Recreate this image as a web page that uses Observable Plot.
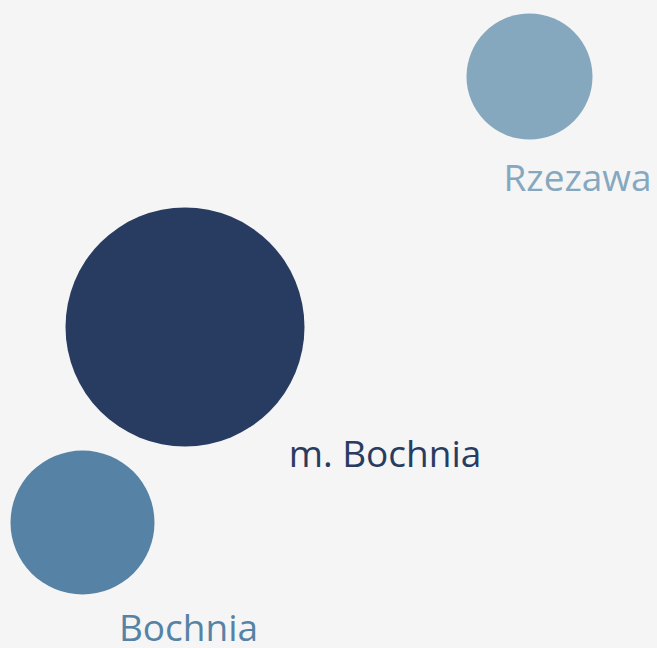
<!DOCTYPE html>
<html>
<head>
<meta charset="utf-8">
<script src="https://cdn.jsdelivr.net/npm/d3@7"></script>
<script src="https://cdn.jsdelivr.net/npm/@observablehq/plot@0.6"></script>
<style>
  html, body { margin: 0; padding: 0; background: #f5f5f5; }
  #chart svg { display: block; }
</style>
</head>
<body>
<div id="chart"></div>
<script>
// Data
const names = ["m. Bochnia", "Bochnia", "Rzezawa"];
const values = [100, 36.3, 27.8];        // relative size (area)
const posX = [184.5, 82, 529];           // layout position
const posY = [321.5, 126, 572];          // layout position (up)
const colors = ["#283c62", "#5683a5", "#86a8bf"];

const data = names.map((n, i) => ({name: n, value: values[i], x: posX[i], y: posY[i], color: colors[i]}));

// label offsets relative to circle centres (layout, not data)
const labelOffset = {"m. Bochnia": [200, -128], "Bochnia": [106, -107], "Rzezawa": [48, -102.5]};

const W = 657, H = 648;
const chart = Plot.plot({
  width: W,
  height: H,
  margin: 0,
  style: {background: "#f5f5f5", fontFamily: "'Open Sans', sans-serif", overflow: "visible"},
  x: {domain: [0, W], range: [0, W], axis: null},
  y: {domain: [0, H], range: [H, 0], axis: null},
  r: {type: "sqrt", domain: [0, d3.max(values)], range: [0, 119.5]},
  marks: [
    Plot.dot(data, {x: "x", y: "y", r: "value", fill: d => d.color, stroke: "none"}),
    Plot.text(data, {
      x: d => d.x + labelOffset[d.name][0],
      y: d => d.y + labelOffset[d.name][1],
      text: "name",
      fill: d => d.color,
      fontSize: 37
    })
  ]
});
document.getElementById("chart").appendChild(chart);
</script>
</body>
</html>
